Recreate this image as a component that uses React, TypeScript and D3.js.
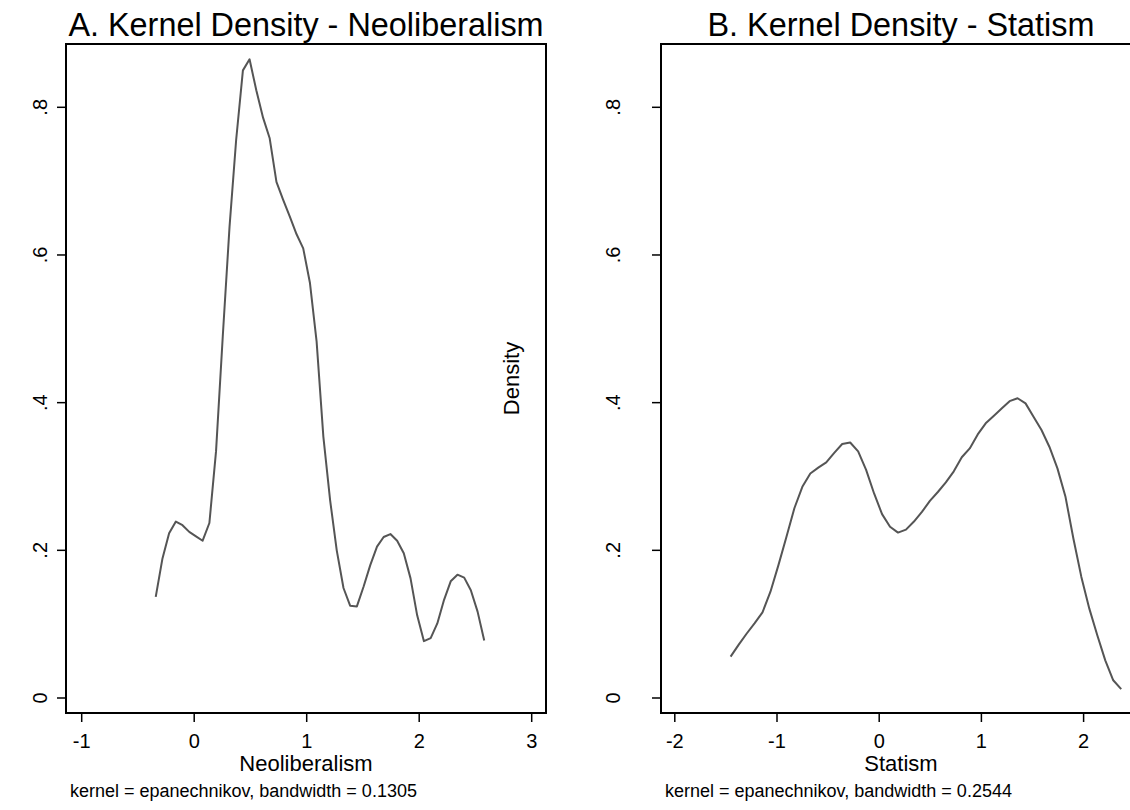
import React from "react";
import * as d3 from "d3";

const neoX = [
  -0.342, -0.282, -0.223, -0.163, -0.104, -0.044, 0.016, 0.075, 0.135, 0.194,
  0.254, 0.314, 0.373, 0.433, 0.492, 0.552, 0.612, 0.671, 0.731, 0.79,
  0.85, 0.91, 0.969, 1.029, 1.088, 1.148, 1.208, 1.267, 1.327, 1.386,
  1.446, 1.506, 1.565, 1.625, 1.684, 1.744, 1.804, 1.863, 1.923, 1.982,
  2.042, 2.102, 2.161, 2.221, 2.28, 2.34, 2.4, 2.459, 2.519, 2.578,
];
const neoDensity = [
  0.137, 0.189, 0.223, 0.239, 0.234, 0.225, 0.219, 0.213, 0.237, 0.334,
  0.49, 0.638, 0.756, 0.85, 0.865, 0.823, 0.786, 0.758, 0.699, 0.675,
  0.652, 0.628, 0.609, 0.562, 0.483, 0.354, 0.268, 0.2, 0.149, 0.125,
  0.124, 0.151, 0.18, 0.205, 0.218, 0.222, 0.213, 0.196, 0.162, 0.112,
  0.077, 0.081, 0.101, 0.133, 0.158, 0.167, 0.163, 0.146, 0.117, 0.078,
];
const statX = [
  -1.454, -1.376, -1.298, -1.22, -1.142, -1.064, -0.986, -0.908, -0.83, -0.752,
  -0.674, -0.596, -0.518, -0.44, -0.362, -0.284, -0.206, -0.128, -0.05, 0.028,
  0.106, 0.184, 0.262, 0.34, 0.418, 0.496, 0.574, 0.652, 0.73, 0.808,
  0.886, 0.964, 1.042, 1.12, 1.198, 1.276, 1.354, 1.432, 1.51, 1.588,
  1.666, 1.744, 1.822, 1.9, 1.978, 2.056, 2.134, 2.212, 2.29, 2.368,
];
const statDensity = [
  0.056, 0.072, 0.087, 0.101, 0.116, 0.144, 0.18, 0.218, 0.257, 0.286,
  0.304, 0.312, 0.319, 0.332, 0.344, 0.346, 0.334, 0.309, 0.277, 0.249,
  0.232, 0.224, 0.228, 0.239, 0.252, 0.267, 0.279, 0.292, 0.307, 0.326,
  0.338, 0.357, 0.372, 0.382, 0.392, 0.402, 0.406, 0.399, 0.381, 0.363,
  0.34, 0.311, 0.273, 0.216, 0.164, 0.121, 0.085, 0.051, 0.024, 0.012,
];
const neoXTicks = [-1, 0, 1, 2, 3];
const statXTicks = [-2, -1, 0, 1, 2];
const yTicks = [0, 0.2, 0.4, 0.6, 0.8];
const yTickLabels = ["0", ".2", ".4", ".6", ".8"];

const FONT = "'Liberation Sans', Arial, Helvetica, sans-serif";

type PanelProps = {
  title: string;
  xLabel: string;
  note: string;
  xs: number[];
  ys: number[];
  xTicks: number[];
  frameLeft: number;
  xDomain: [number, number];
  xRange: [number, number];
  yLabelX: number;
  yTitleX?: number;
};

function Panel(p: PanelProps) {
  const frameTop = 44;
  const frameBottom = 713;
  const frameRight = p.frameLeft + 480;
  const x = d3.scaleLinear().domain(p.xDomain).range(p.xRange);
  const y = d3.scaleLinear().domain([0, 0.8]).range([698, 107.3]);
  const line = d3
    .line<number>()
    .x((_, i) => x(p.xs[i]))
    .y((d) => y(d));
  const cx = (p.frameLeft + frameRight) / 2;
  return (
    <g fontFamily={FONT}>
      <text x={cx} y={35.5} textAnchor="middle" fontSize={32.4} fill="#000">
        {p.title}
      </text>
      <path d={line(p.ys) || ""} fill="none" stroke="#555" strokeWidth={2} strokeLinejoin="round" />
      <rect
        x={p.frameLeft}
        y={frameTop}
        width={frameRight - p.frameLeft}
        height={frameBottom - frameTop}
        fill="none"
        stroke="#000"
        strokeWidth={2}
      />
      {yTicks.map((t, i) => (
        <g key={"y" + i}>
          <line x1={p.frameLeft - 9} x2={p.frameLeft} y1={y(t)} y2={y(t)} stroke="#000" strokeWidth={1.5} />
          <text
            transform={`translate(${p.yLabelX},${y(t)}) rotate(-90)`}
            textAnchor="middle"
            dominantBaseline="central"
            fontSize={20}
            fill="#000"
          >
            {yTickLabels[i]}
          </text>
        </g>
      ))}
      {p.xTicks.map((t, i) => (
        <g key={"x" + i}>
          <line x1={x(t)} x2={x(t)} y1={frameBottom} y2={frameBottom + 9} stroke="#000" strokeWidth={1.5} />
          <text x={x(t)} y={748} textAnchor="middle" fontSize={20} fill="#000">
            {String(t)}
          </text>
        </g>
      ))}
      <text x={cx} y={770.5} textAnchor="middle" fontSize={22} fill="#000">
        {p.xLabel}
      </text>
      <text x={p.frameLeft + 4} y={797} fontSize={18} fill="#000">
        {p.note}
      </text>
      {p.yTitleX !== undefined && (
        <text
          transform={`translate(${p.yTitleX},${(frameTop + frameBottom) / 2}) rotate(-90)`}
          textAnchor="middle"
          dominantBaseline="central"
          fontSize={22}
          fill="#000"
        >
          Density
        </text>
      )}
    </g>
  );
}

export default function App() {
  return (
    <svg
      width={1130}
      height={810}
      style={{ position: "absolute", left: 0, top: 0, background: "#fff" }}
    >
      <rect x={0} y={0} width={1130} height={810} fill="#fff" />
      <Panel
        title="A. Kernel Density - Neoliberalism"
        xLabel="Neoliberalism"
        note="kernel = epanechnikov, bandwidth = 0.1305"
        xs={neoX}
        ys={neoDensity}
        xTicks={neoXTicks}
        frameLeft={66}
        xDomain={[-1, 3]}
        xRange={[81.7, 531.7]}
        yLabelX={40}
      />
      <Panel
        title="B. Kernel Density - Statism"
        xLabel="Statism"
        note="kernel = epanechnikov, bandwidth = 0.2544"
        xs={statX}
        ys={statDensity}
        xTicks={statXTicks}
        frameLeft={661}
        xDomain={[-2, 2]}
        xRange={[674.8, 1083.6]}
        yLabelX={613}
        yTitleX={511}
      />
    </svg>
  );
}
